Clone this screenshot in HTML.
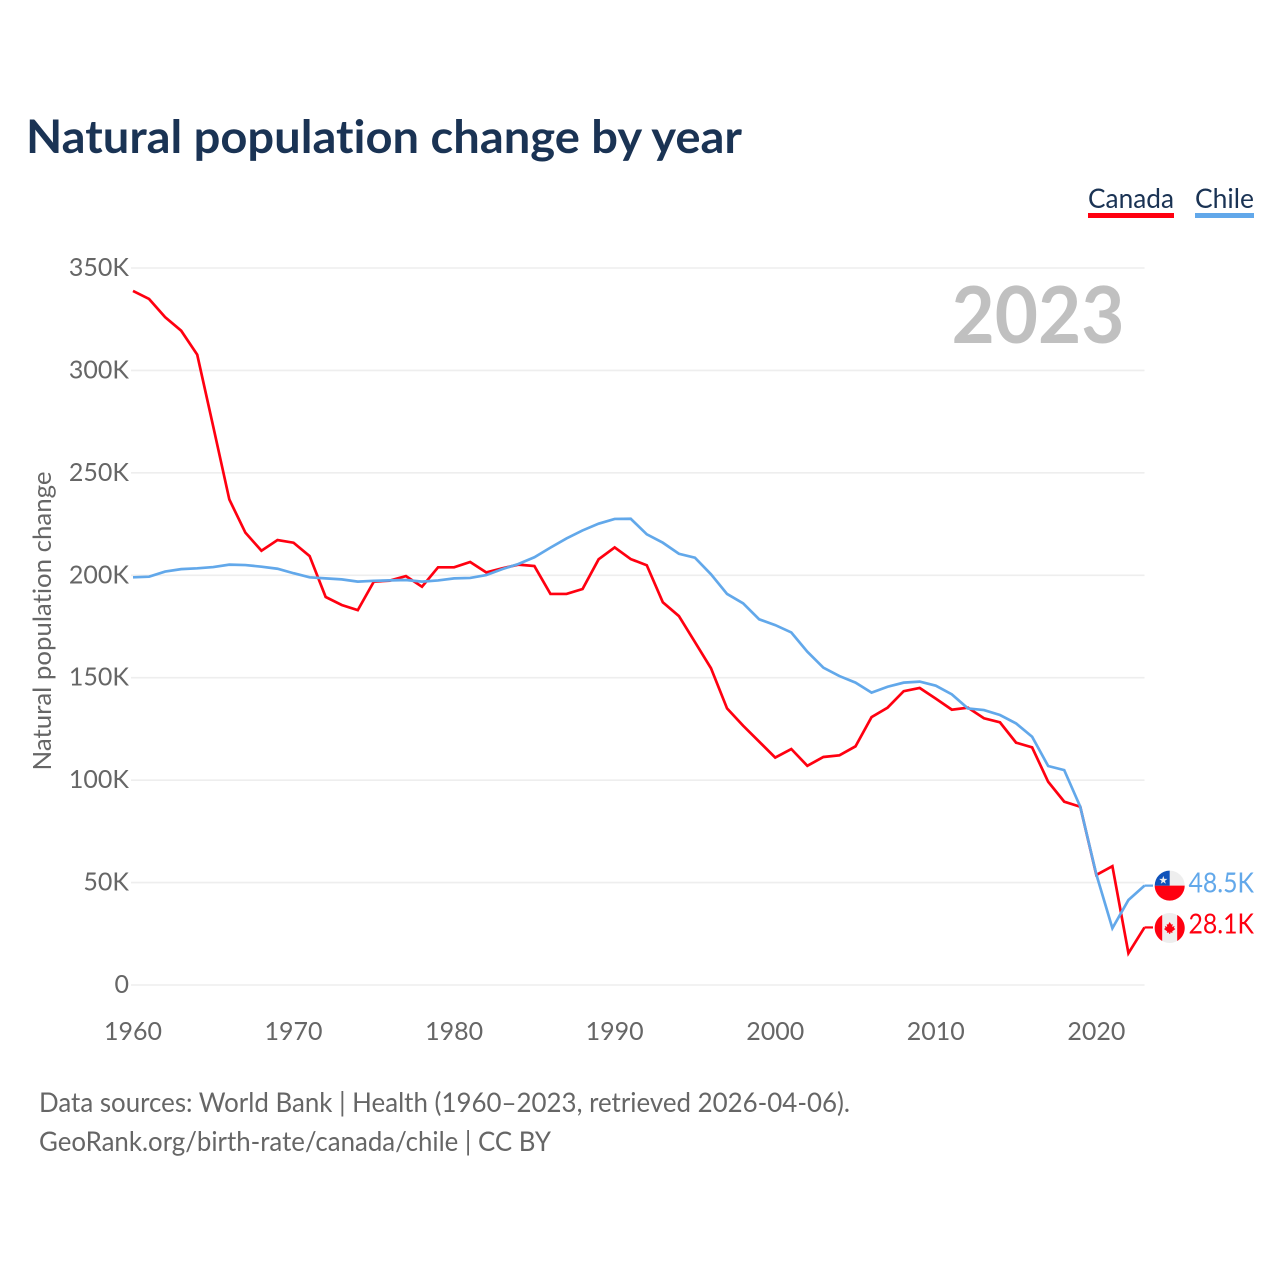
<!DOCTYPE html>
<html lang="en">
<head>
<meta charset="utf-8">
<title>Natural population change by year</title>
<style>
html,body{margin:0;padding:0;background:#fff;}
svg{display:block;}
text{font-family:"Lato","Carlito","Liberation Sans",sans-serif;font-variant-ligatures:none;}
</style>
</head>
<body>
<svg id="chart" xmlns="http://www.w3.org/2000/svg" width="1280" height="1280" viewBox="0 0 1280 1280">
  <rect x="0" y="0" width="1280" height="1280" fill="#ffffff"/>
  <text x="26" y="153" font-size="46" font-weight="700" fill="#1a3354" textLength="716" lengthAdjust="spacingAndGlyphs">Natural population change by year</text>

  <g>
    <text x="1088" y="208" font-size="27" fill="#1a3354" textLength="86" lengthAdjust="spacingAndGlyphs">Canada</text>
    <rect x="1088" y="213" width="86" height="5" fill="#ff0010"/>
  </g>
  <g>
    <text x="1195" y="208" font-size="27" fill="#1a3354" textLength="59" lengthAdjust="spacingAndGlyphs">Chile</text>
    <rect x="1195" y="213" width="59" height="5" fill="#62a8ea"/>
  </g>

  <g id="grid"></g>
  <g id="ylabels"></g>
  <g id="xlabels"></g>

  <text transform="translate(51 621) rotate(-90)" text-anchor="middle" font-size="25" fill="#666666" textLength="299" lengthAdjust="spacingAndGlyphs">Natural population change</text>
  <text x="1124.5" y="343" text-anchor="end" font-size="79" font-weight="700" fill="#c0c0c0" textLength="173" lengthAdjust="spacingAndGlyphs">2023</text>

  <g id="series"></g>
  <g id="ends"></g>

  <text x="39" y="1112" font-size="27" fill="#666666" textLength="811" lengthAdjust="spacingAndGlyphs">Data sources: World Bank | Health (1960–2023, retrieved 2026-04-06).</text>
  <text x="39" y="1151" font-size="27" fill="#666666" textLength="512" lengthAdjust="spacingAndGlyphs">GeoRank.org/birth-rate/canada/chile | CC BY</text>
</svg>
<script>
const firstYear = 1960;
const lastYear = 2023;
const xTickYears = [1960, 1970, 1980, 1990, 2000, 2010, 2020];
const yTickValues = [0, 50000, 100000, 150000, 200000, 250000, 300000, 350000];
const yTickLabels = ['0', '50K', '100K', '150K', '200K', '250K', '300K', '350K'];
const canadaValues = [338.8,334.9,326,319.4,307.7,272.5,237,220.8,212,217.2,215.9,209.4,189.4,185.5,183,196.9,197.4,199.6,194.4,203.9,203.9,206.5,201.4,203.4,205.2,204.5,190.9,190.9,193.3,207.8,213.6,207.9,204.9,186.8,180.1,167.4,154.6,135,126.6,118.8,111,115.2,107,111.3,112.1,116.5,130.8,135.4,143.4,145,139.8,134.4,135.4,130.2,128.2,118.3,116,99.2,89.5,87,53.7,58,15.5,28.1];
const chileValues = [199,199.3,201.8,203,203.4,204,205.2,205,204.2,203.2,201,199,198.5,198,196.9,197.3,197.5,197.7,196.9,197.5,198.5,198.7,200.1,203,205.5,208.8,213.5,218,221.9,225.2,227.5,227.6,220,215.9,210.5,208.6,200.5,190.9,186.3,178.5,175.7,172.1,162.7,154.9,150.8,147.6,142.7,145.6,147.6,148.1,146.1,141.9,135,134.2,131.8,127.7,121.2,106.9,104.9,87,54,27.7,41.5,48.5];

const SVG_NS = 'http://www.w3.org/2000/svg';
const plotLeft = 133, plotRight = 1144.5, plotTop = 268, plotBottom = 985, yMax = 350000;
const xScale = function (year) { return plotLeft + (year - firstYear) * (plotRight - plotLeft) / (lastYear - firstYear); };
const yScale = function (v) { return plotBottom - v * (plotBottom - plotTop) / yMax; };

function make(tag, attrs, parent) {
  const el = document.createElementNS(SVG_NS, tag);
  Object.keys(attrs).forEach(function (k) { el.setAttribute(k, attrs[k]); });
  parent.appendChild(el);
  return el;
}

const grid = document.getElementById('grid');
const ylabels = document.getElementById('ylabels');
const xlabels = document.getElementById('xlabels');
const seriesGroup = document.getElementById('series');
const ends = document.getElementById('ends');

yTickValues.forEach(function (v, i) {
  const line = make('line', {x1: plotLeft - 2, x2: plotRight, y1: yScale(v), y2: yScale(v), stroke: '#eeeeee', 'stroke-width': 1.6}, grid);
  
  
  const label = make('text', {x: 129, y: yScale(v) + 8, 'text-anchor': 'end', 'font-size': 25, fill: '#666666'}, ylabels);
  label.textContent = yTickLabels[i];
  
  
});

xTickYears.forEach(function (year) {
  const label = make('text', {x: xScale(year), y: 1040, 'text-anchor': 'middle', 'font-size': 25, fill: '#666666'}, xlabels);
  label.textContent = String(year);
  
  
});

function pointsFor(values) {
  return values.map(function (v, i) {
    return xScale(firstYear + i).toFixed(2) + ',' + yScale(v * 1000).toFixed(2);
  }).join(' ');
}

const canadaLine = make('polyline', {points: pointsFor(canadaValues), fill: 'none', stroke: '#ff0010', 'stroke-width': 2.7, 'stroke-linejoin': 'miter'}, seriesGroup);


const chileLine = make('polyline', {points: pointsFor(chileValues), fill: 'none', stroke: '#62a8ea', 'stroke-width': 2.7, 'stroke-linejoin': 'miter'}, seriesGroup);



function drawEnd(values, color, isChile) {
  const v = values[values.length - 1];
  const y = yScale(v * 1000);
  const g = make('g', {transform: 'translate(0 ' + y.toFixed(2) + ')'}, ends);
  
  

  const lead = make('line', {x1: plotRight, x2: 1153, y1: 0, y2: 0, stroke: color, 'stroke-width': 2.2}, g);
  
  

  const flag = make('g', {transform: 'translate(1169.7 ' + (isChile ? 0 : 0.6) + ')'}, g);
  
  
  make('circle', {cx: 0, cy: 0, r: 15, fill: '#eeeeee'}, flag);
  if (isChile) {
    make('path', {d: 'M-15 0A15 15 0 0 0 15 0Z', fill: '#ff0010'}, flag);
    make('path', {d: 'M-15 0A15 15 0 0 1 0 -15V0Z', fill: '#0f52ba'}, flag);
    make('path', {d: 'M0 -3.8L.9 -1.2 3.6 -1.2 1.4 .5 2.2 3.1 0 1.5 -2.2 3.1 -1.4 .5 -3.6 -1.2 -.9 -1.2Z', fill: '#eeeeee', transform: 'translate(-6.4 -5.4) scale(1.15)'}, flag);
  } else {
    make('path', {d: 'M-7.5 -13A15 15 0 0 0 -7.5 13Z', fill: '#ff0010'}, flag);
    make('path', {d: 'M7.5 -13A15 15 0 0 1 7.5 13Z', fill: '#ff0010'}, flag);
    make('path', {d: 'M0 -6l1.6 2.6 1.4-.6-.5 3 2.4-1-.7 2 1.6.9-3.3 2.4.4 1.4-2.4-.3V6h-1v-1.6l-2.4.3.4-1.4-3.3-2.4 1.6-.9-.7-2 2.4 1-.5-3 1.4.6z', fill: '#ff0010'}, flag);
  }

  const label = make('text', {x: 1254, y: isChile ? 7 : 6, 'text-anchor': 'end', 'font-size': 28.5, fill: color, textLength: 65.5, lengthAdjust: 'spacingAndGlyphs'}, g);
  label.textContent = v.toFixed(1) + 'K';
  
  
}

drawEnd(chileValues, '#62a8ea', true);
drawEnd(canadaValues, '#ff0010', false);
</script>
</body>
</html>
